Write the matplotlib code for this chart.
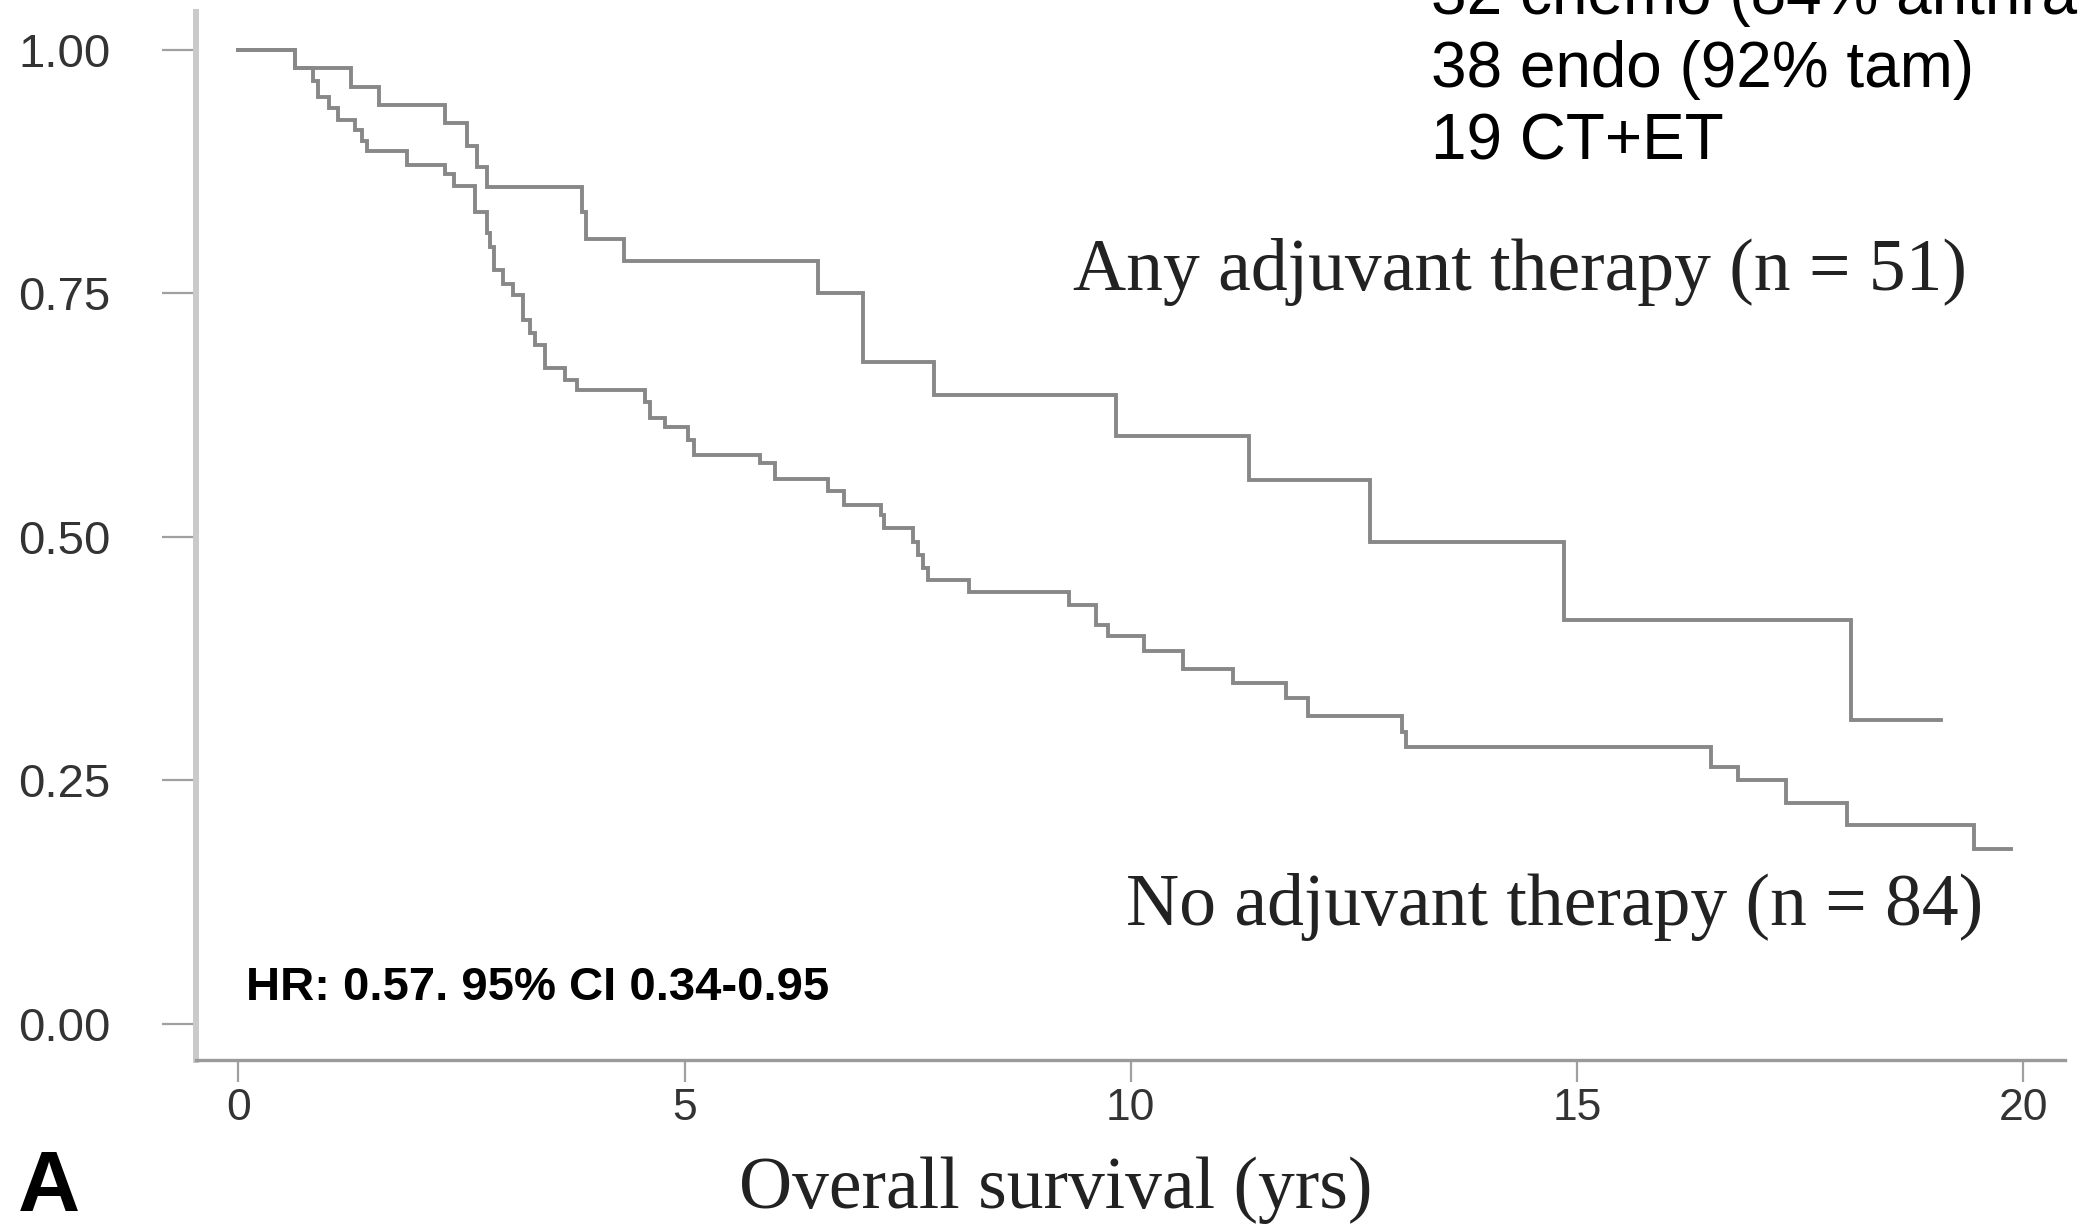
import matplotlib
matplotlib.use("Agg")
import matplotlib.pyplot as plt
from matplotlib import font_manager as fm


def pick(*names):
    for n in names:
        try:
            fm.findfont(fm.FontProperties(family=n), fallback_to_default=False)
            return n
        except Exception:
            pass
    return "DejaVu Sans"


SANS = pick("Liberation Sans", "Arial")
SERIF = pick("Liberation Serif", "Times New Roman")

# ---------------- data ----------------
# Any adjuvant therapy (n = 51)
adj_times = [0.0, 0.63, 1.26, 1.57, 2.31, 2.56, 2.67, 2.78, 3.85, 3.89, 4.32,
             6.49, 7.00, 7.80, 9.84, 11.32, 12.68, 14.85, 18.07]
adj_surv = [1.000, 0.981, 0.962, 0.944, 0.925, 0.901, 0.880, 0.859, 0.834, 0.806, 0.783,
            0.750, 0.680, 0.646, 0.604, 0.559, 0.495, 0.415, 0.312]
adj_end = 19.08

# No adjuvant therapy (n = 84)
noadj_times = [0.0, 0.63, 0.84, 0.89, 1.01, 1.12, 1.31, 1.38, 1.44, 1.89, 2.31,
               2.41, 2.65, 2.78, 2.82, 2.86, 2.97, 3.08, 3.19, 3.27, 3.32, 3.44,
               3.66, 3.79, 4.56, 4.61, 4.78, 5.04, 5.10, 5.84, 6.01, 6.61, 6.79,
               7.20, 7.24, 7.56, 7.61, 7.67, 7.73, 8.19, 9.31, 9.61, 9.74, 10.15,
               10.58, 11.15, 11.74, 11.99, 13.04, 13.09, 16.50, 16.80, 17.34,
               18.03, 19.45]
noadj_surv = [1.000, 0.981, 0.968, 0.952, 0.940, 0.928, 0.918, 0.907, 0.896, 0.882, 0.873,
              0.860, 0.834, 0.812, 0.798, 0.774, 0.760, 0.748, 0.723, 0.709, 0.697, 0.673,
              0.661, 0.651, 0.639, 0.622, 0.613, 0.600, 0.584, 0.576, 0.560, 0.547, 0.533,
              0.523, 0.509, 0.495, 0.482, 0.468, 0.456, 0.444, 0.430, 0.410, 0.398, 0.383,
              0.364, 0.350, 0.335, 0.316, 0.300, 0.284, 0.264, 0.250, 0.227,
              0.204, 0.180]
noadj_end = 19.86

x_ticks = [0, 5, 10, 15, 20]
y_ticks = [0.00, 0.25, 0.50, 0.75, 1.00]
y_ticklabels = ["0.00", "0.25", "0.50", "0.75", "1.00"]

label_adj = "Any adjuvant therapy (n = 51)"
label_noadj = "No adjuvant therapy (n = 84)"
hr_text = "HR: 0.57. 95% CI 0.34-0.95"
x_label = "Overall survival (yrs)"
panel = "A"
treat_lines = ["32 chemo (84% anthracyclines)", "38 endo (92% tam)", "19 CT+ET"]

# ---------------- figure ----------------
W, H = 2078, 1227
fig = plt.figure(figsize=(W / 100, H / 100), dpi=100)
fig.patch.set_facecolor("white")

ax_left, ax_right, ax_bottom, ax_top = 196, 2065, 1060, 12
ax = fig.add_axes([ax_left / W, 1 - ax_bottom / H,
                   (ax_right - ax_left) / W, (ax_bottom - ax_top) / H])
ax.set_xlim(-0.476, 20.47)
ax.set_ylim(-0.037, 1.039)

line_kw = dict(where="post", color="#888888", lw=2.8, solid_joinstyle="miter")
ax.step(adj_times + [adj_end], adj_surv + [adj_surv[-1]], **line_kw)
ax.step(noadj_times + [noadj_end], noadj_surv + [noadj_surv[-1]], **line_kw)

for s in ("top", "right"):
    ax.spines[s].set_visible(False)
ax.spines["left"].set_color("#cacaca")
ax.spines["left"].set_linewidth(4.3)
ax.spines["bottom"].set_color("#9a9a9a")
ax.spines["bottom"].set_linewidth(2.4)

ax.set_xticks(x_ticks)
ax.set_xticklabels([str(t) for t in x_ticks])
ax.set_yticks(y_ticks)
ax.set_yticklabels(y_ticklabels)
ax.tick_params(axis="y", length=24.5, width=1.6, color="#a0a0a0", pad=37,
               labelsize=34, labelcolor="#333333")
ax.tick_params(axis="x", length=16, width=1.6, color="#a0a0a0", pad=4,
               labelsize=32, labelcolor="#333333")
for lab in ax.get_xticklabels() + ax.get_yticklabels():
    lab.set_fontfamily(SANS)


def fx(px):
    return px / W


def fy(py):
    return 1 - py / H


fig.text(fx(1073), fy(290), label_adj, family=SERIF, fontsize=53,
         color="#222222", ha="left", va="baseline")
fig.text(fx(1126), fy(925), label_noadj, family=SERIF, fontsize=53,
         color="#222222", ha="left", va="baseline")
fig.text(fx(246), fy(1000), hr_text, family=SANS, fontsize=34,
         fontweight="bold", color="black", ha="left", va="baseline")
fig.text(fx(1056), fy(1208), x_label, family=SERIF, fontsize=53,
         color="#222222", ha="center", va="baseline")
fig.text(fx(18), fy(1211), panel, family=SANS, fontsize=62,
         fontweight="bold", color="black", ha="left", va="baseline")

for i, t in enumerate(treat_lines):
    fig.text(fx(1431), fy(14 + 73 * i), t, family=SANS, fontsize=46,
             color="black", ha="left", va="baseline")

fig.savefig("out.png", dpi=100)
